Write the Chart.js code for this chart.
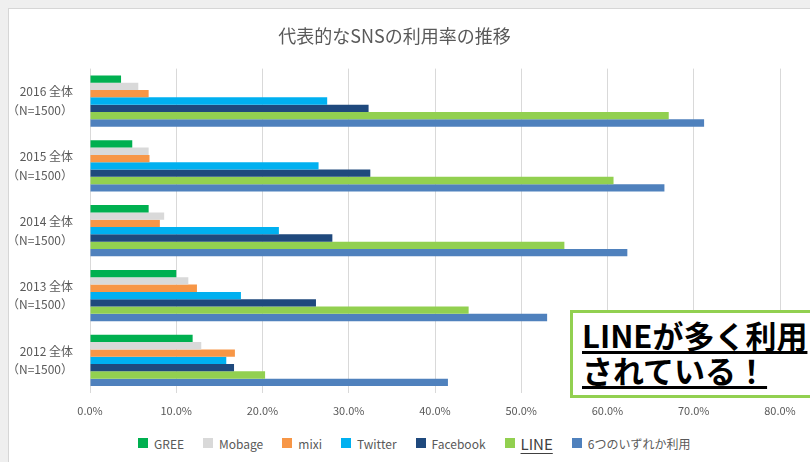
<!DOCTYPE html>
<html>
<head>
<meta charset="utf-8">
<script src="https://cdn.jsdelivr.net/npm/chart.js@4/dist/chart.umd.min.js"></script>
<style>
  html, body { margin: 0; padding: 0; background: #efefef; width: 810px; height: 462px; overflow: hidden; }
  #frame {
    position: absolute; left: 8px; top: 8px; width: 810px; height: 460px;
    background: #fff; border-left: 1px solid #d6d6d6; border-top: 1px solid #d6d6d6;
  }
  #wrap { position: absolute; left: 0; top: 0; width: 801px; height: 419px; }
  #legend {
    position: absolute; left: 138px; top: 434px; height: 18px;
    display: flex; align-items: center; white-space: nowrap;
    font-family: "Noto Sans CJK JP", sans-serif; font-size: 12px; color: #595959;
  }
  #legend .item { display: flex; align-items: center; margin-right: 19px; }
  #legend .box { width: 10px; height: 10px; margin-right: 6px; }
  #legend .big { font-size: 15px; color: #404040; text-decoration: underline; text-underline-offset: 3px; }
  #note {
    position: absolute; left: 570px; top: 310px; width: 260px; height: 88px;
    border: 3px solid #92d050; background: #fff; box-sizing: border-box;
    font-family: "Noto Sans CJK JP", sans-serif; font-weight: bold; font-size: 31px;
    line-height: 35px; color: #000; padding: 4px 0 0 9px; white-space: nowrap;
  }
  #note span { text-decoration: underline; text-decoration-thickness: 3px; text-underline-offset: 3px; }
</style>
</head>
<body>
<div id="frame">
  <div id="wrap"><canvas id="snsChart"></canvas></div>
</div>
<div id="legend"></div>
<div id="note"><span>LINEが多く利用</span><br><span>されている！</span></div>
<script>
// 年度（上から 2016 → 2012）
const years = ['2016', '2015', '2014', '2013', '2012'];
const sampleLabel = '（N=1500）';

// 利用率（%）
const gree     = [3.6, 4.9, 6.8, 10.0, 11.9];
const mobage   = [5.6, 6.8, 8.6, 11.4, 12.9];
const mixi     = [6.8, 6.9, 8.1, 12.4, 16.8];
const twitter  = [27.5, 26.5, 21.9, 17.5, 15.8];
const facebook = [32.3, 32.5, 28.1, 26.2, 16.7];
const line     = [67.1, 60.7, 55.0, 43.9, 20.3];
const anyOfSix = [71.2, 66.6, 62.3, 53.0, 41.5];

const seriesNames = ['GREE', 'Mobage', 'mixi', 'Twitter', 'Facebook', 'LINE', '6つのいずれか利用'];
const seriesColors = ['#00b050', '#d9d9d9', '#f79646', '#00b0f0', '#1f497d', '#92d050', '#4f81bd'];
const seriesValues = [gree, mobage, mixi, twitter, facebook, line, anyOfSix];

const xTicks = [0, 10, 20, 30, 40, 50, 60, 70, 80];

const labels = years.map(y => [y + ' 全体', sampleLabel]);

const datasets = seriesNames.map((name, i) => ({
    label: name,
    data: seriesValues[i],
    backgroundColor: seriesColors[i],
    borderWidth: 0,
    barPercentage: 1.0,
    categoryPercentage: 0.79
}));

// 凡例（LINE だけ強調）
const legendEl = document.getElementById('legend');
seriesNames.forEach((name, i) => {
    const item = document.createElement('div');
    item.className = 'item';
    const box = document.createElement('span');
    box.className = 'box';
    box.style.background = seriesColors[i];
    const txt = document.createElement('span');
    txt.textContent = name;
    if (name === 'LINE') txt.className = 'big';
    item.appendChild(box);
    item.appendChild(txt);
    legendEl.appendChild(item);
});

const ctx = document.getElementById('snsChart');
new Chart(ctx, {
    type: 'bar',
    data: { labels: labels, datasets: datasets },
    options: {
        indexAxis: 'y',
        responsive: true,
        maintainAspectRatio: false,
        animation: false,
        layout: { padding: { top: 6, right: 30, left: 0, bottom: 0 } },
        plugins: {
            title: {
                display: true,
                text: '代表的なSNSの利用率の推移',
                color: '#595959',
                font: { family: '"Noto Sans CJK JP", sans-serif', size: 18, weight: 'normal' },
                padding: { top: 10, bottom: 22 }
            },
            legend: { display: false },
            tooltip: { enabled: false }
        },
        scales: {
            x: {
                min: 0,
                max: 80,
                afterBuildTicks: (scale) => { scale.ticks = xTicks.map(v => ({ value: v })); },
                ticks: {
                    callback: (v) => Number(v).toFixed(1) + '%',
                    color: '#595959',
                    padding: 11,
                    font: { family: '"Noto Sans CJK JP", sans-serif', size: 11 }
                },
                grid: { color: '#d9d9d9', drawTicks: false },
                border: { display: false }
            },
            y: {
                afterFit: (scale) => { scale.width = 81; },
                ticks: {
                    color: '#595959',
                    padding: 9,
                    font: { family: '"Noto Sans CJK JP", sans-serif', size: 12, lineHeight: 1.55 }
                },
                grid: { display: false },
                border: { display: false }
            }
        }
    }
});
</script>
</body>
</html>
